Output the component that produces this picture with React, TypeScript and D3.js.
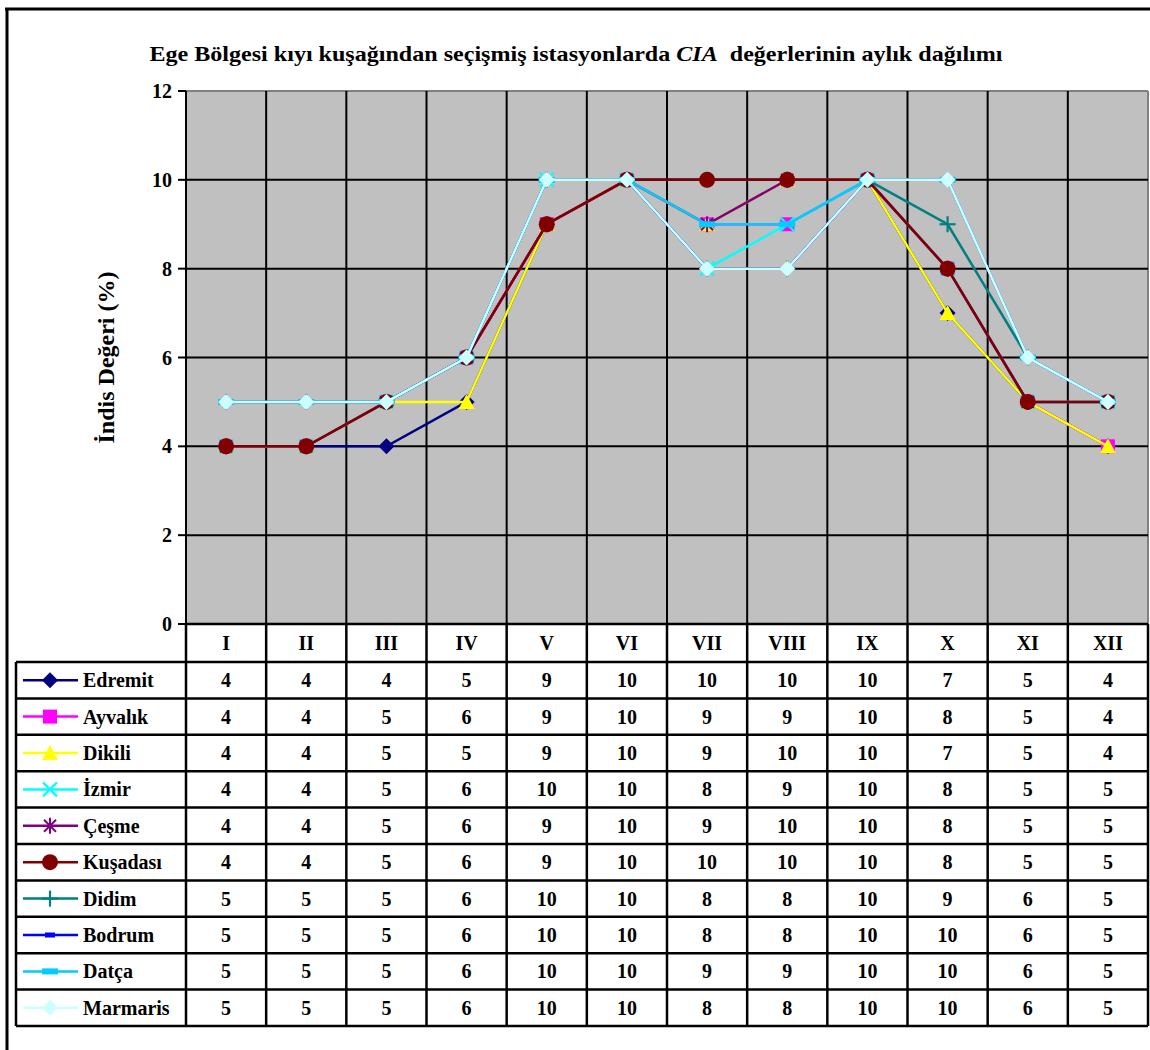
import React from "react";
import * as d3 from "d3";

const months = ["I", "II", "III", "IV", "V", "VI", "VII", "VIII", "IX", "X", "XI", "XII"];
const yTicks = [0, 2, 4, 6, 8, 10, 12];

const stations = ["Edremit", "Ayvalık", "Dikili", "İzmir", "Çeşme", "Kuşadası", "Didim", "Bodrum", "Datça", "Marmaris"];

const edremit = [4, 4, 4, 5, 9, 10, 10, 10, 10, 7, 5, 4];
const ayvalik = [4, 4, 5, 6, 9, 10, 9, 9, 10, 8, 5, 4];
const dikili = [4, 4, 5, 5, 9, 10, 9, 10, 10, 7, 5, 4];
const izmir = [4, 4, 5, 6, 10, 10, 8, 9, 10, 8, 5, 5];
const cesme = [4, 4, 5, 6, 9, 10, 9, 10, 10, 8, 5, 5];
const kusadasi = [4, 4, 5, 6, 9, 10, 10, 10, 10, 8, 5, 5];
const didim = [5, 5, 5, 6, 10, 10, 8, 8, 10, 9, 6, 5];
const bodrum = [5, 5, 5, 6, 10, 10, 8, 8, 10, 10, 6, 5];
const datca = [5, 5, 5, 6, 10, 10, 9, 9, 10, 10, 6, 5];
const marmaris = [5, 5, 5, 6, 10, 10, 8, 8, 10, 10, 6, 5];

const seriesValues = [edremit, ayvalik, dikili, izmir, cesme, kusadasi, didim, bodrum, datca, marmaris];
const seriesColors = ["#000080", "#FF00FF", "#FFFF00", "#00FFFF", "#800080", "#800000", "#008080", "#0000FF", "#00CCFF", "#CCFFFF"];
const seriesMarkers = ["diamond", "square", "triangle", "x", "star", "circle", "plus", "dash", "bar", "diamond"];

const FONT = "'Liberation Serif', 'Times New Roman', serif";
const FS = 20;

const Marker = ({ type, x, y, color }: { type: string; x: number; y: number; color: string }) => {
  switch (type) {
    case "diamond":
      return <polygon points={`${x},${y - 8} ${x + 8},${y} ${x},${y + 8} ${x - 8},${y}`} fill={color} />;
    case "square":
      return <rect x={x - 7} y={y - 7} width={14} height={14} fill={color} />;
    case "triangle":
      return <polygon points={`${x},${y - 8} ${x + 8},${y + 7} ${x - 8},${y + 7}`} fill={color} />;
    case "x":
      return (
        <g stroke={color} strokeWidth={2.2}>
          <line x1={x - 7} y1={y - 7} x2={x + 7} y2={y + 7} />
          <line x1={x - 7} y1={y + 7} x2={x + 7} y2={y - 7} />
        </g>
      );
    case "star":
      return (
        <g stroke={color} strokeWidth={2}>
          <line x1={x - 6} y1={y - 6} x2={x + 6} y2={y + 6} />
          <line x1={x - 6} y1={y + 6} x2={x + 6} y2={y - 6} />
          <line x1={x} y1={y - 8} x2={x} y2={y + 8} />
        </g>
      );
    case "circle":
      return <circle cx={x} cy={y} r={8} fill={color} />;
    case "plus":
      return (
        <g stroke={color} strokeWidth={2.2}>
          <line x1={x - 8} y1={y} x2={x + 8} y2={y} />
          <line x1={x} y1={y - 8} x2={x} y2={y + 8} />
        </g>
      );
    case "dash":
      return <rect x={x - 5} y={y - 2.5} width={10} height={5} fill={color} />;
    case "bar":
      return <rect x={x - 8} y={y - 3} width={16} height={6} fill={color} />;
    default:
      return null;
  }
};

export default function App() {
  const plotLeft = 186;
  const plotRight = 1148;
  const plotTop = 91;
  const plotBottom = 624;
  const headerBottom = 662;
  const tableBottom = 1026;
  const tableLeft = 16;

  const x = d3.scaleBand<string>().domain(months).range([plotLeft, plotRight]);
  const y = d3.scaleLinear().domain([0, 12]).range([plotBottom, plotTop]);
  const row = d3.scaleBand<string>().domain(stations).range([headerBottom, tableBottom]);

  const line = d3
    .line<number>()
    .x((_, i) => (x(months[i]) as number) + x.bandwidth() / 2)
    .y((d) => y(d));

  const boundaries = months.map((m) => x(m) as number).concat([plotRight]);

  return (
    <svg width={1150} height={1050} style={{ position: "absolute", left: 0, top: 0 }} fontFamily={FONT}>
      <rect x={0} y={0} width={1150} height={1050} fill="#fff" />
      {/* outer frame */}
      <line x1={5} y1={9} x2={1150} y2={9} stroke="#000" strokeWidth={3} />
      <line x1={7} y1={9} x2={7} y2={1050} stroke="#000" strokeWidth={3} />

      <text x={576} y={61} textAnchor="middle" fontSize={22} fontWeight="bold" textLength={853} lengthAdjust="spacingAndGlyphs">
        Ege Bölgesi kıyı kuşağından seçişmiş istasyonlarda <tspan fontStyle="italic">CIA</tspan>{"\u00a0 "}değerlerinin aylık dağılımı
      </text>

      {/* plot area */}
      <rect x={plotLeft} y={plotTop} width={plotRight - plotLeft} height={plotBottom - plotTop} fill="#C0C0C0" />
      <line x1={plotLeft} y1={plotTop} x2={plotRight} y2={plotTop} stroke="#808080" strokeWidth={2} />
      <line x1={plotRight} y1={plotTop} x2={plotRight} y2={plotBottom} stroke="#808080" strokeWidth={2} />
      {yTicks.slice(1, -1).map((t) => (
        <line key={t} x1={plotLeft} x2={plotRight} y1={y(t)} y2={y(t)} stroke="#000" strokeWidth={2} />
      ))}
      {boundaries.slice(0, -1).map((b, i) => (
        <line key={i} x1={b} x2={b} y1={plotTop} y2={plotBottom} stroke="#000" strokeWidth={2} />
      ))}

      {/* y axis */}
      {yTicks.map((t) => (
        <g key={t}>
          <line x1={plotLeft - 8} x2={plotLeft} y1={y(t)} y2={y(t)} stroke="#000" strokeWidth={2} />
          <text x={plotLeft - 14} y={y(t)} dy="0.35em" textAnchor="end" fontSize={FS} fontWeight="bold">
            {t}
          </text>
        </g>
      ))}
      <text
        transform={`translate(106,${(plotTop + plotBottom) / 2}) rotate(-90)`}
        textAnchor="middle"
        dy="0.35em"
        fontSize={24}
        fontWeight="bold"
      >
        İndis Değeri (%)
      </text>

      {/* series */}
      {seriesValues.map((vals, si) => (
        <g key={stations[si]}>
          <path d={line(vals) as string} fill="none" stroke={seriesColors[si]} strokeWidth={2.5} />
          {vals.map((v, i) => (
            <Marker
              key={i}
              type={seriesMarkers[si]}
              x={(x(months[i]) as number) + x.bandwidth() / 2}
              y={y(v)}
              color={seriesColors[si]}
            />
          ))}
        </g>
      ))}

      {/* data table */}
      <rect x={plotLeft} y={plotBottom} width={plotRight - plotLeft} height={headerBottom - plotBottom} fill="#fff" />
      {months.map((m) => (
        <text
          key={m}
          x={(x(m) as number) + x.bandwidth() / 2}
          y={(plotBottom + headerBottom) / 2}
          dy="0.35em"
          textAnchor="middle"
          fontSize={FS}
          fontWeight="bold"
        >
          {m}
        </text>
      ))}
      {stations.map((s, si) => {
        const ry = row(s) as number;
        const cy = ry + row.bandwidth() / 2;
        return (
          <g key={s}>
            <line x1={tableLeft + 7} x2={tableLeft + 62} y1={cy} y2={cy} stroke={seriesColors[si]} strokeWidth={2.5} />
            <Marker type={seriesMarkers[si]} x={tableLeft + 34} y={cy} color={seriesColors[si]} />
            <text x={tableLeft + 67} y={cy} dy="0.35em" fontSize={FS} fontWeight="bold">
              {s}
            </text>
            {seriesValues[si].map((v, i) => (
              <text
                key={i}
                x={(x(months[i]) as number) + x.bandwidth() / 2}
                y={cy}
                dy="0.35em"
                textAnchor="middle"
                fontSize={FS}
                fontWeight="bold"
              >
                {v}
              </text>
            ))}
          </g>
        );
      })}
      {/* table grid */}
      <line x1={plotLeft} x2={plotRight} y1={plotBottom} y2={plotBottom} stroke="#000" strokeWidth={2.5} />
      {stations.map((s) => (
        <line key={s} x1={tableLeft} x2={plotRight} y1={row(s) as number} y2={row(s) as number} stroke="#000" strokeWidth={2.5} />
      ))}
      <line x1={tableLeft} x2={plotRight} y1={tableBottom} y2={tableBottom} stroke="#000" strokeWidth={2.5} />
      <line x1={tableLeft} x2={tableLeft} y1={headerBottom} y2={tableBottom} stroke="#000" strokeWidth={2.5} />
      {boundaries.map((b, i) => (
        <line key={i} x1={b} x2={b} y1={plotBottom} y2={tableBottom} stroke="#000" strokeWidth={2.5} />
      ))}
    </svg>
  );
}
